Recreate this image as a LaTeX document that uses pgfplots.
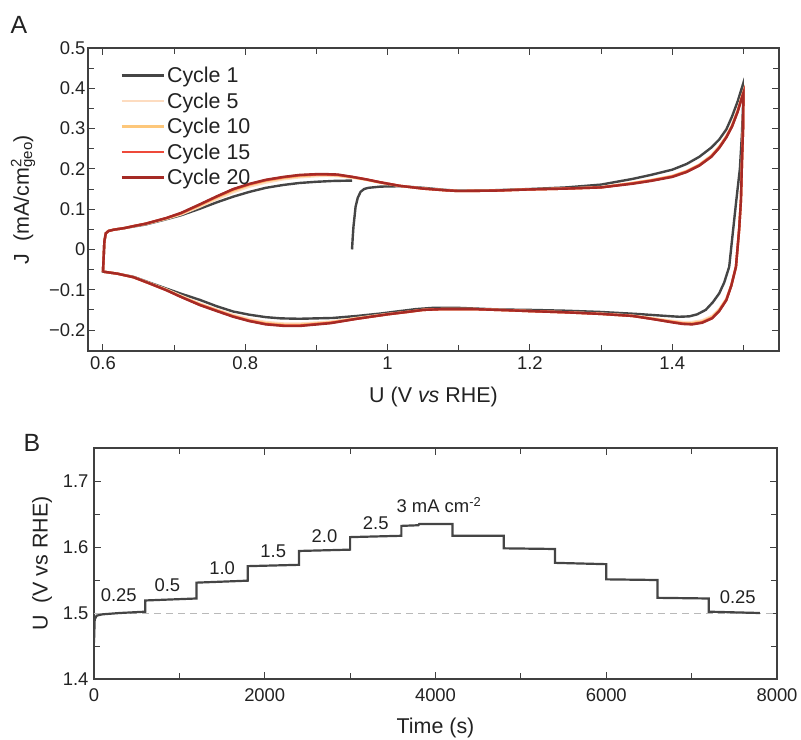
\documentclass[border=0pt]{standalone}
\usepackage{fontspec}
\setmainfont{Liberation Sans}
\usepackage{pgfplots}
\pgfplotsset{compat=1.18}
\usepackage{pgfplotstable}

\definecolor{axgray}{HTML}{404040}
\definecolor{c1}{HTML}{454545}
\definecolor{c5}{HTML}{FDDCC0}
\definecolor{c10}{HTML}{FDC77A}
\definecolor{c15}{HTML}{EE4A3A}
\definecolor{c20}{HTML}{A52A25}
\definecolor{txt}{HTML}{222222}

\pgfplotstableread{
U J
0.950 0.000
0.951 0.030
0.952 0.056
0.955 0.106
0.958 0.128
0.962 0.143
0.967 0.150
0.973 0.153
0.990 0.156
1.017 0.157
1.050 0.153
1.080 0.148
1.097 0.146
1.150 0.147
1.200 0.150
1.251 0.154
1.300 0.161
1.344 0.175
1.370 0.185
1.400 0.198
1.420 0.212
1.438 0.230
1.455 0.253
1.466 0.273
1.476 0.298
1.484 0.330
1.492 0.368
1.499 0.408
1.4995 0.360
1.498 0.290
1.495 0.200
1.490 0.122
1.485 0.040
1.480 -0.043
1.473 -0.082
1.466 -0.109
1.457 -0.131
1.447 -0.150
1.435 -0.161
1.424 -0.166
1.410 -0.167
1.400 -0.166
1.350 -0.160
1.298 -0.155
1.250 -0.152
1.200 -0.150
1.157 -0.149
1.100 -0.145
1.063 -0.145
1.040 -0.148
1.017 -0.153
0.990 -0.159
0.957 -0.165
0.923 -0.170
0.876 -0.172
0.850 -0.171
0.829 -0.168
0.806 -0.162
0.783 -0.154
0.760 -0.141
0.736 -0.125
0.710 -0.110
0.689 -0.097
0.665 -0.082
0.643 -0.068
0.620 -0.060
0.600 -0.055
0.601 -0.020
0.602 0.020
0.604 0.040
0.608 0.046
0.615 0.049
0.630 0.053
0.643 0.057
0.660 0.062
0.689 0.075
0.710 0.085
0.736 0.101
0.760 0.117
0.783 0.131
0.806 0.143
0.829 0.153
0.853 0.160
0.876 0.165
0.900 0.168
0.923 0.170
0.950 0.171
}\cycA

\pgfplotstableread{
U J
0.600 -0.055
0.601 -0.020
0.602 0.020
0.604 0.040
0.608 0.046
0.615 0.049
0.630 0.053
0.643 0.058
0.660 0.063
0.689 0.076
0.710 0.087
0.736 0.106
0.760 0.125
0.783 0.142
0.806 0.156
0.829 0.166
0.853 0.174
0.876 0.179
0.900 0.182
0.914 0.183
0.930 0.182
0.951 0.178
0.970 0.173
0.989 0.166
1.017 0.158
1.050 0.151
1.080 0.147
1.100 0.145
1.150 0.146
1.200 0.149
1.250 0.151
1.300 0.155
1.344 0.165
1.370 0.172
1.400 0.183
1.420 0.195
1.438 0.211
1.455 0.234
1.466 0.256
1.476 0.282
1.484 0.309
1.492 0.346
1.497 0.376
1.500 0.392
1.4995 0.300
1.498 0.220
1.4965 0.122
1.494 0.050
1.4895 -0.043
1.483 -0.088
1.476 -0.122
1.466 -0.148
1.456 -0.165
1.442 -0.176
1.428 -0.180
1.415 -0.180
1.400 -0.177
1.370 -0.170
1.344 -0.164
1.300 -0.159
1.250 -0.156
1.200 -0.153
1.171 -0.151
1.120 -0.148
1.078 -0.148
1.050 -0.150
1.028 -0.155
1.000 -0.160
0.957 -0.170
0.920 -0.179
0.876 -0.184
0.856 -0.184
0.829 -0.180
0.806 -0.173
0.783 -0.162
0.760 -0.149
0.736 -0.134
0.710 -0.115
0.689 -0.099
0.665 -0.083
0.643 -0.069
0.620 -0.060
0.600 -0.055
}\cycB

\pgfplotstableread{
U J
0.600 -0.055
0.601 -0.020
0.602 0.020
0.604 0.040
0.608 0.046
0.615 0.049
0.630 0.053
0.643 0.058
0.660 0.064
0.689 0.077
0.710 0.089
0.736 0.109
0.760 0.129
0.783 0.146
0.806 0.160
0.829 0.170
0.853 0.177
0.876 0.182
0.900 0.185
0.914 0.185
0.930 0.184
0.951 0.179
0.970 0.173
0.989 0.166
1.017 0.158
1.050 0.151
1.080 0.147
1.100 0.145
1.150 0.146
1.200 0.149
1.250 0.151
1.300 0.154
1.344 0.165
1.370 0.172
1.400 0.182
1.420 0.194
1.438 0.210
1.455 0.232
1.466 0.254
1.476 0.280
1.484 0.307
1.492 0.344
1.497 0.374
1.500 0.390
1.4995 0.300
1.498 0.220
1.4965 0.122
1.494 0.050
1.4895 -0.043
1.483 -0.089
1.476 -0.124
1.466 -0.150
1.456 -0.168
1.442 -0.179
1.428 -0.183
1.415 -0.183
1.400 -0.179
1.370 -0.171
1.344 -0.165
1.300 -0.160
1.250 -0.156
1.200 -0.153
1.171 -0.151
1.120 -0.148
1.078 -0.148
1.050 -0.150
1.028 -0.155
1.000 -0.161
0.957 -0.171
0.920 -0.181
0.876 -0.187
0.856 -0.187
0.829 -0.183
0.806 -0.176
0.783 -0.165
0.760 -0.151
0.736 -0.136
0.710 -0.117
0.689 -0.100
0.665 -0.084
0.643 -0.069
0.620 -0.060
0.600 -0.055
}\cycC

\pgfplotstableread{
U J
0.600 -0.055
0.601 -0.020
0.602 0.020
0.604 0.040
0.608 0.046
0.615 0.049
0.630 0.053
0.643 0.058
0.660 0.064
0.689 0.078
0.710 0.090
0.736 0.111
0.760 0.131
0.783 0.149
0.806 0.162
0.829 0.172
0.853 0.179
0.876 0.184
0.900 0.186
0.914 0.186
0.930 0.185
0.951 0.180
0.970 0.174
0.989 0.167
1.017 0.158
1.050 0.151
1.080 0.147
1.100 0.145
1.150 0.146
1.200 0.149
1.250 0.151
1.300 0.154
1.344 0.164
1.370 0.171
1.400 0.181
1.420 0.193
1.438 0.209
1.455 0.231
1.466 0.253
1.476 0.279
1.484 0.306
1.492 0.343
1.497 0.373
1.500 0.389
1.4995 0.300
1.498 0.220
1.4965 0.122
1.494 0.050
1.4895 -0.043
1.483 -0.089
1.476 -0.125
1.466 -0.152
1.456 -0.170
1.442 -0.181
1.428 -0.185
1.415 -0.184
1.400 -0.180
1.370 -0.172
1.344 -0.165
1.300 -0.160
1.250 -0.156
1.200 -0.153
1.171 -0.151
1.120 -0.148
1.078 -0.148
1.050 -0.150
1.028 -0.155
1.000 -0.161
0.957 -0.172
0.920 -0.182
0.876 -0.189
0.856 -0.189
0.829 -0.185
0.806 -0.177
0.783 -0.166
0.760 -0.152
0.736 -0.137
0.710 -0.118
0.689 -0.101
0.665 -0.084
0.643 -0.069
0.620 -0.060
0.600 -0.055
}\cycD

\pgfplotstableread{
U J
0.600 -0.055
0.601 -0.020
0.602 0.020
0.604 0.040
0.608 0.046
0.615 0.049
0.630 0.053
0.643 0.058
0.660 0.064
0.689 0.078
0.710 0.091
0.736 0.112
0.760 0.132
0.783 0.150
0.806 0.163
0.829 0.173
0.853 0.180
0.876 0.185
0.900 0.187
0.914 0.187
0.930 0.186
0.951 0.180
0.970 0.174
0.989 0.167
1.017 0.158
1.050 0.151
1.080 0.147
1.100 0.145
1.150 0.146
1.200 0.149
1.250 0.151
1.300 0.154
1.344 0.163
1.370 0.170
1.400 0.180
1.420 0.192
1.438 0.208
1.455 0.230
1.466 0.252
1.476 0.278
1.484 0.305
1.492 0.342
1.497 0.372
1.500 0.388
1.4995 0.300
1.498 0.220
1.4965 0.122
1.494 0.050
1.4895 -0.043
1.483 -0.090
1.476 -0.126
1.466 -0.153
1.456 -0.171
1.442 -0.182
1.428 -0.186
1.415 -0.185
1.400 -0.181
1.370 -0.172
1.344 -0.165
1.300 -0.160
1.250 -0.156
1.200 -0.153
1.171 -0.151
1.120 -0.148
1.078 -0.148
1.050 -0.150
1.028 -0.155
1.000 -0.161
0.957 -0.172
0.920 -0.183
0.876 -0.190
0.856 -0.190
0.829 -0.186
0.806 -0.178
0.783 -0.167
0.760 -0.153
0.736 -0.138
0.710 -0.118
0.689 -0.101
0.665 -0.084
0.643 -0.069
0.620 -0.060
0.600 -0.055
}\cycE

\pgfplotstableread{
t U
0 1.455
8 1.490
30 1.496
100 1.498
300 1.500
600 1.502
600 1.519
1200 1.522
1200 1.546
1800 1.549
1800 1.571
2400 1.573
2400 1.594
3000 1.596
3000 1.615
3600 1.617
3600 1.632
3800 1.633
3810 1.635
4200 1.635
4200 1.617
4800 1.617
4800 1.598
5400 1.597
5400 1.576
6000 1.574
6000 1.551
6600 1.550
6600 1.523
7200 1.522
7200 1.502
7800 1.500
}\stepdata

\pgfplotsset{
  mystyle/.style={
    scale only axis,
    axis line style={axgray, line width=1.2bp},
    tick style={axgray, line width=1bp},
    tick align=inside,
    major tick length=7bp,
    minor tick length=6bp,
    ticklabel style={font=\fontsize{18.5}{22}\selectfont, text=txt},
    /pgf/number format/assume math mode=true,
  }
}

\begin{document}
\begin{tikzpicture}
\useasboundingbox (0,0) rectangle (801bp,-740bp);

\node[anchor=center, font=\fontsize{25}{30}\selectfont, text=txt] at (19bp,-25bp) {A};
\node[anchor=center, font=\fontsize{25}{30}\selectfont, text=txt] at (32bp,-443bp) {B};

\begin{axis}[mystyle,
  at={(88bp,-351bp)}, anchor=south west,
  width=691bp, height=303bp,
  xmin=0.579, xmax=1.55, ymin=-0.252, ymax=0.5,
  xtick={0.6,0.8,1.0,1.2,1.4},
  xticklabels={0.6,0.8,1,1.2,1.4},
  minor xtick={0.7,0.9,1.1,1.3,1.5},
  ytick={-0.2,-0.1,0,0.1,0.2,0.3,0.4,0.5},
  yticklabels={−0.2,−0.1,0,0.1,0.2,0.3,0.4,0.5},
  minor ytick={-0.15,-0.05,0.05,0.15,0.25,0.35,0.45},
  xticklabel style={yshift=-2bp},
  yticklabel style={xshift=1bp},
  xlabel={U (V \textit{vs} RHE)},
  ylabel={J \ (mA/cm\rlap{\textsuperscript{2}}\textsubscript{geo})},
  every axis x label/.style={at={(axis description cs:0.5,-0.152)}, anchor=center, font=\fontsize{21.5}{25}\selectfont, text=txt},
  every axis y label/.style={at={(axis description cs:-0.094,0.5)}, anchor=center, rotate=90, font=\fontsize{21.5}{25}\selectfont, text=txt},
  legend style={at={(axis description cs:0.047,0.944)}, anchor=north west, draw=none, fill=none,
    font=\fontsize{21.5}{25}\selectfont, text=txt, row sep=4.5bp, inner sep=0pt},
  legend cell align=left,
  legend image code/.code={\draw[#1] (0bp,0bp) -- (31bp,0bp); \path (0bp,0bp) -- (42bp,0bp);},
]
\addplot[c1, line width=2.4bp] table[x=U,y=J] {\cycA};
\addlegendentry{Cycle 1}
\addplot[c5, line width=2.4bp] table[x=U,y=J] {\cycB};
\addlegendentry{Cycle 5}
\addplot[c10, line width=2.4bp] table[x=U,y=J] {\cycC};
\addlegendentry{Cycle 10}
\addplot[c15, line width=2.4bp] table[x=U,y=J] {\cycD};
\addlegendentry{Cycle 15}
\addplot[c20, line width=2.4bp] table[x=U,y=J] {\cycE};
\addlegendentry{Cycle 20}
\end{axis}

\begin{axis}[mystyle,
  at={(94bp,-679bp)}, anchor=south west,
  width=683bp, height=231bp,
  xmin=0, xmax=8000, ymin=1.4, ymax=1.75,
  xtick={0,2000,4000,6000,8000},
  xticklabels={0,2000,4000,6000,8000},
  minor xtick={1000,3000,5000,7000},
  ytick={1.4,1.5,1.6,1.7},
  yticklabels={1.4,1.5,1.6,1.7},
  minor ytick={1.45,1.55,1.65},
  xticklabel style={yshift=-6bp},
  yticklabel style={xshift=-2bp},
  xlabel={Time (s)},
  ylabel={U \ (V vs RHE)},
  every axis x label/.style={at={(axis description cs:0.5,-0.21)}, anchor=center, font=\fontsize{21.5}{25}\selectfont, text=txt},
  every axis y label/.style={at={(axis description cs:-0.076,0.5)}, anchor=center, rotate=90, font=\fontsize{21.5}{25}\selectfont, text=txt},
]
\addplot[gray!55, line width=1bp, dash pattern=on 7bp off 5bp] coordinates {(0,1.5) (8000,1.5)};
\addplot[c1, line width=2.2bp] table[x=t,y=U] {\stepdata};
\node[font=\fontsize{18.5}{22}\selectfont, text=txt] at (axis cs:290,1.527) {0.25};
\node[font=\fontsize{18.5}{22}\selectfont, text=txt] at (axis cs:860,1.542) {0.5};
\node[font=\fontsize{18.5}{22}\selectfont, text=txt] at (axis cs:1500,1.568) {1.0};
\node[font=\fontsize{18.5}{22}\selectfont, text=txt] at (axis cs:2100,1.594) {1.5};
\node[font=\fontsize{18.5}{22}\selectfont, text=txt] at (axis cs:2700,1.617) {2.0};
\node[font=\fontsize{18.5}{22}\selectfont, text=txt] at (axis cs:3300,1.636) {2.5};
\node[font=\fontsize{18.5}{22}\selectfont, text=txt] at (axis cs:4040,1.663) {3 mA cm\textsuperscript{-2}};
\node[font=\fontsize{18.5}{22}\selectfont, text=txt] at (axis cs:7540,1.524) {0.25};
\end{axis}
\end{tikzpicture}
\end{document}
